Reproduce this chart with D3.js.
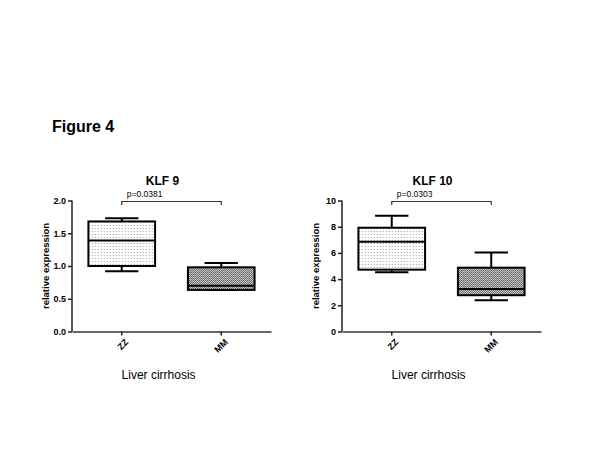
<!DOCTYPE html>
<html>
<head>
<meta charset="utf-8">
<script src="https://cdn.jsdelivr.net/npm/d3@7"></script>
<style>
  body { margin: 0; background: #fff; }
  text { font-family: "Liberation Sans", Arial, sans-serif; fill: #000; }
</style>
</head>
<body>
<div id="chart"></div>
<script>
// data
const groups = ["ZZ", "MM"];
const klf9Stats = [
  { min: 0.92, q1: 1.00, median: 1.39, q3: 1.68, max: 1.73 },
  { min: 0.635, q1: 0.635, median: 0.70, q3: 0.98, max: 1.045 }
];
const klf10Stats = [
  { min: 4.52, q1: 4.72, median: 6.85, q3: 7.92, max: 8.83 },
  { min: 2.39, q1: 2.77, median: 3.25, q3: 4.87, max: 6.04 }
];
const klf9Ticks = [0.0, 0.5, 1.0, 1.5, 2.0];
const klf10Ticks = [0, 2, 4, 6, 8, 10];
const panels = [
  { title: "KLF 9", stats: klf9Stats, max: 2.0, ticks: klf9Ticks, fmt: d3.format(".1f"), p: "p=0.0381" },
  { title: "KLF 10", stats: klf10Stats, max: 10, ticks: klf10Ticks, fmt: d3.format("d"), p: "p=0.0303" }
];

const W = 600, H = 450;
const svg = d3.select("#chart").append("svg")
  .attr("width", W).attr("height", H);

// fill patterns
const defs = svg.append("defs");
const light = defs.append("pattern").attr("id", "dots").attr("patternUnits", "userSpaceOnUse")
  .attr("width", 3).attr("height", 3);
light.append("rect").attr("width", 3).attr("height", 3).attr("fill", "#fff");
light.append("rect").attr("width", 1).attr("height", 1).attr("fill", "#999");

const dark = defs.append("pattern").attr("id", "checks").attr("patternUnits", "userSpaceOnUse")
  .attr("width", 2).attr("height", 2);
dark.append("rect").attr("width", 2).attr("height", 2).attr("fill", "#eee");
dark.append("rect").attr("width", 1).attr("height", 1).attr("fill", "#333");
dark.append("rect").attr("x", 1).attr("y", 1).attr("width", 1).attr("height", 1).attr("fill", "#555");

const fills = ["url(#dots)", "url(#checks)"];

svg.append("text")
  .attr("x", 52).attr("y", 132)
  .attr("font-size", 16).attr("font-weight", "bold")
  .text("Figure 4");

const panelLeft = [72, 342];
const plotW = 199;
const plotTop = 200.5, plotBottom = 331.5;

panels.forEach((p, i) => {
  const g = svg.append("g").attr("transform", `translate(${panelLeft[i]},0)`);

  const x = d3.scaleBand().domain(groups).range([0, plotW]);
  const y = d3.scaleLinear().domain([0, p.max]).range([plotBottom, plotTop]);
  const boxW = x.bandwidth() * 0.67;
  const capW = boxW / 2;

  // axes
  const yAxis = g.append("g")
    .call(d3.axisLeft(y).tickValues(p.ticks).tickFormat(p.fmt).tickSize(4).tickPadding(2));
  yAxis.select(".domain").attr("stroke", "#222").attr("stroke-width", 1.5).attr("d", `M0,${plotTop}V${plotBottom}`);
  yAxis.selectAll(".tick line").attr("stroke", "#222").attr("stroke-width", 1.5);
  yAxis.selectAll(".tick text")
    .attr("font-size", 9).attr("font-weight", "bold")
    .attr("font-family", "Liberation Sans, Arial, sans-serif").attr("fill", "#000");

  const xAxis = g.append("g").attr("transform", `translate(0,${plotBottom})`)
    .call(d3.axisBottom(x).tickSize(4).tickSizeOuter(0));
  xAxis.select(".domain").attr("stroke", "#333").attr("stroke-width", 1.5);
  xAxis.selectAll(".tick line").attr("stroke", "#222").attr("stroke-width", 1.5);
  xAxis.selectAll(".tick text")
    .attr("font-size", 9).attr("font-weight", "bold")
    .attr("font-family", "Liberation Sans, Arial, sans-serif").attr("fill", "#000")
    .attr("text-anchor", "end")
    .attr("x", 0).attr("y", 0).attr("dy", "0.35em")
    .attr("transform", "translate(5,9) rotate(-45)");

  // boxes
  const boxes = g.selectAll(".box").data(p.stats).enter().append("g")
    .attr("transform", (d, j) => `translate(${x(groups[j]) + x.bandwidth() / 2},0)`);

  boxes.append("line")
    .attr("y1", d => y(d.max)).attr("y2", d => y(d.q3))
    .attr("stroke", "#000").attr("stroke-width", 2);
  boxes.append("line")
    .attr("y1", d => y(d.q1)).attr("y2", d => y(d.min))
    .attr("stroke", "#000").attr("stroke-width", 2);
  boxes.append("line")
    .attr("x1", -capW / 2).attr("x2", capW / 2)
    .attr("y1", d => y(d.max)).attr("y2", d => y(d.max))
    .attr("stroke", "#000").attr("stroke-width", 2);
  boxes.append("line")
    .attr("x1", -capW / 2).attr("x2", capW / 2)
    .attr("y1", d => y(d.min)).attr("y2", d => y(d.min))
    .attr("stroke", "#000").attr("stroke-width", 2);
  boxes.append("rect")
    .attr("x", -boxW / 2).attr("width", boxW)
    .attr("y", d => y(d.q3)).attr("height", d => y(d.q1) - y(d.q3))
    .attr("fill", (d, j) => fills[j])
    .attr("stroke", "#000").attr("stroke-width", 2);
  boxes.append("line")
    .attr("x1", -boxW / 2).attr("x2", boxW / 2)
    .attr("y1", d => y(d.median)).attr("y2", d => y(d.median))
    .attr("stroke", "#000").attr("stroke-width", 2);

  // significance bracket
  const xa = x(groups[0]) + x.bandwidth() / 2, xb = x(groups[1]) + x.bandwidth() / 2;
  g.append("path")
    .attr("d", `M${xa},${plotTop + 4.5}V${plotTop + 1}H${xb}V${plotTop + 4.5}`)
    .attr("fill", "none").attr("stroke", "#333").attr("stroke-width", 1.2);
  g.append("text")
    .attr("x", xa + 5).attr("y", plotTop - 4)
    .attr("font-size", 8.5).attr("fill", "#222")
    .text(p.p);

  // titles and labels
  g.append("text")
    .attr("x", plotW * 0.455).attr("y", 185)
    .attr("text-anchor", "middle")
    .attr("font-size", 12).attr("font-weight", "bold")
    .text(p.title);

  g.append("text")
    .attr("transform", `translate(-23,${(plotTop + plotBottom) / 2}) rotate(-90)`)
    .attr("text-anchor", "middle")
    .attr("font-size", 9.5).attr("font-weight", "bold")
    .text("relative expression");

  g.append("text")
    .attr("x", plotW * 0.435).attr("y", 379)
    .attr("text-anchor", "middle")
    .attr("font-size", 12)
    .text("Liver cirrhosis");
});
</script>
</body>
</html>
